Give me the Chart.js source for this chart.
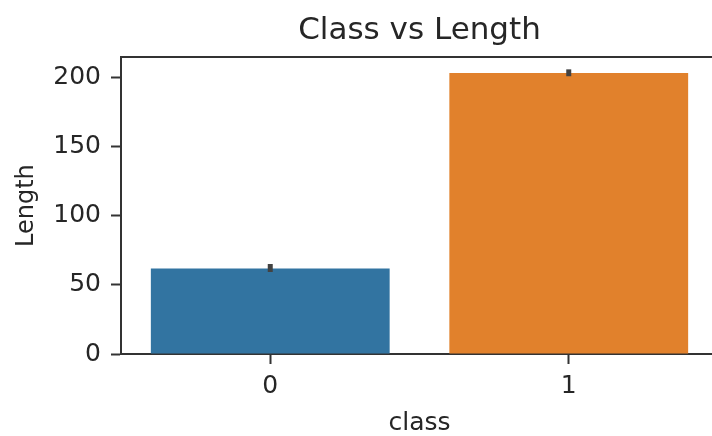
<!DOCTYPE html>
<html>
<head>
<meta charset="utf-8">
<script src="https://cdn.jsdelivr.net/npm/chart.js@4/dist/chart.umd.min.js"></script>
<style>
  html, body { margin: 0; padding: 0; background: #ffffff; overflow: hidden; }
  #wrap { width: 712px; height: 436px; overflow: hidden; position: relative; }
  #chart { position: absolute; left: 0; top: 0; }
</style>
</head>
<body>
<div id="wrap"><canvas id="chart" width="720" height="436"></canvas></div>
<script>
// Mean length per class, with the 95% confidence interval of each mean
const classes = ['0', '1'];
const lengthMean = [62, 203.6];
const ciLow = [59.4, 201.2];
const ciHigh = [65.2, 206.2];
const yTicks = [0, 50, 100, 150, 200];
const yMax = 215;

const barColors = ['#3274a1', '#e1812c'];
const inkColor = '#262626';
const spineColor = '#333333';
const font = 'DejaVu Sans';

// Draws a vertical confidence-interval line over each bar
const ciBars = {
  id: 'ciBars',
  afterDatasetsDraw(chart) {
    const meta = chart.getDatasetMeta(0);
    const y = chart.scales.y;
    const ctx = chart.ctx;
    ctx.save();
    ctx.strokeStyle = '#424242';
    ctx.lineWidth = 5;
    ctx.lineCap = 'butt';
    meta.data.forEach((bar, i) => {
      ctx.beginPath();
      ctx.moveTo(bar.x, y.getPixelForValue(ciLow[i]));
      ctx.lineTo(bar.x, y.getPixelForValue(ciHigh[i]));
      ctx.stroke();
    });
    ctx.restore();
  }
};

new Chart(document.getElementById('chart'), {
  type: 'bar',
  data: {
    labels: classes,
    datasets: [{
      data: lengthMean,
      backgroundColor: barColors,
      borderWidth: 0,
      barPercentage: 0.8,
      categoryPercentage: 1.0
    }]
  },
  options: {
    responsive: false,
    animation: false,
    layout: { padding: { left: 0, right: 2, top: 0, bottom: 0 } },
    plugins: {
      legend: { display: false },
      tooltip: { enabled: false },
      title: {
        display: true,
        fullSize: false,
        text: 'Class vs Length',
        color: inkColor,
        font: { family: font, size: 31, weight: 'normal' },
        padding: { top: 12, bottom: 8 }
      }
    },
    scales: {
      x: {
        type: 'category',
        position: 'bottom',
        offset: true,
        grid: {
          offset: false,
          drawOnChartArea: false,
          drawTicks: true,
          tickLength: 10,
          tickWidth: 2,
          tickColor: spineColor
        },
        border: { display: true, color: spineColor, width: 2 },
        ticks: {
          color: inkColor,
          padding: 7,
          font: { family: font, size: 25 }
        },
        title: {
          display: true,
          text: 'class',
          color: inkColor,
          font: { family: font, size: 25, lineHeight: 1 },
          padding: { top: 0, bottom: 0 }
        },
        afterFit(scale) { scale.height = 82; }
      },
      xTop: {
        type: 'category',
        position: 'top',
        offset: true,
        grid: { display: false, drawTicks: false },
        border: { display: true, color: spineColor, width: 2 },
        ticks: { display: false },
        afterFit(scale) { scale.height = 0; }
      },
      y: {
        type: 'linear',
        min: 0,
        max: yMax,
        grid: {
          drawOnChartArea: false,
          drawTicks: true,
          tickLength: 10,
          tickWidth: 2,
          tickColor: spineColor
        },
        border: { display: true, color: spineColor, width: 2 },
        ticks: {
          color: inkColor,
          padding: 10,
          font: { family: font, size: 25 }
        },
        afterBuildTicks(scale) { scale.ticks = yTicks.map(v => ({ value: v })); },
        title: {
          display: true,
          text: 'Length',
          color: inkColor,
          font: { family: font, size: 24, lineHeight: 1.2 },
          padding: { top: 12, bottom: 0 }
        },
        afterFit(scale) { scale.width = 121; }
      }
    }
  },
  plugins: [ciBars]
});
</script>
</body>
</html>
